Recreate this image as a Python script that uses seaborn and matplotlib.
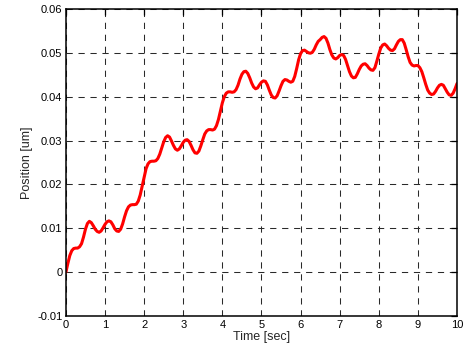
import matplotlib
matplotlib.use("Agg")
import matplotlib.pyplot as plt
import seaborn as sns
import pandas as pd
from matplotlib.ticker import FuncFormatter

time_sec = [round(i * 0.05, 2) for i in range(201)]
position_um = [
    0.0000, 0.0020, 0.0038, 0.0049, 0.0054, 0.0055, 0.0055, 0.0058, 0.0065, 0.0080,
    0.0098, 0.0111, 0.0116, 0.0113, 0.0106, 0.0098, 0.0093, 0.0091, 0.0094, 0.0101,
    0.0109, 0.0115, 0.0117, 0.0115, 0.0108, 0.0099, 0.0094, 0.0093, 0.0098, 0.0110,
    0.0126, 0.0140, 0.0149, 0.0153, 0.0154, 0.0154, 0.0155, 0.0162, 0.0176, 0.0196,
    0.0217, 0.0236, 0.0247, 0.0252, 0.0253, 0.0253, 0.0254, 0.0259, 0.0269, 0.0283,
    0.0297, 0.0307, 0.0311, 0.0308, 0.0299, 0.0289, 0.0281, 0.0278, 0.0281, 0.0288,
    0.0296, 0.0301, 0.0302, 0.0298, 0.0289, 0.0279, 0.0272, 0.0271, 0.0276, 0.0288,
    0.0302, 0.0315, 0.0322, 0.0325, 0.0325, 0.0324, 0.0326, 0.0334, 0.0348, 0.0367,
    0.0386, 0.0400, 0.0408, 0.0411, 0.0411, 0.0410, 0.0411, 0.0416, 0.0426, 0.0440,
    0.0451, 0.0457, 0.0458, 0.0453, 0.0443, 0.0431, 0.0422, 0.0418, 0.0420, 0.0427,
    0.0433, 0.0436, 0.0435, 0.0427, 0.0415, 0.0404, 0.0398, 0.0397, 0.0402, 0.0413,
    0.0425, 0.0435, 0.0439, 0.0438, 0.0435, 0.0433, 0.0435, 0.0446, 0.0464, 0.0484,
    0.0498, 0.0505, 0.0506, 0.0503, 0.0500, 0.0499, 0.0501, 0.0508, 0.0518, 0.0526,
    0.0530, 0.0535, 0.0537, 0.0533, 0.0522, 0.0507, 0.0495, 0.0488, 0.0486, 0.0489,
    0.0494, 0.0496, 0.0494, 0.0485, 0.0471, 0.0457, 0.0447, 0.0443, 0.0444, 0.0452,
    0.0462, 0.0470, 0.0474, 0.0475, 0.0471, 0.0465, 0.0461, 0.0460, 0.0466, 0.0481,
    0.0497, 0.0511, 0.0518, 0.0520, 0.0516, 0.0510, 0.0506, 0.0505, 0.0509, 0.0518,
    0.0526, 0.0530, 0.0530, 0.0522, 0.0507, 0.0491, 0.0478, 0.0472, 0.0470, 0.0471,
    0.0471, 0.0466, 0.0457, 0.0443, 0.0428, 0.0415, 0.0408, 0.0405, 0.0406, 0.0412,
    0.0420, 0.0426, 0.0428, 0.0426, 0.0418, 0.0410, 0.0404, 0.0403, 0.0408, 0.0418,
    0.0430]

x_ticks = [0, 1, 2, 3, 4, 5, 6, 7, 8, 9, 10]
y_ticks = [-0.01, 0, 0.01, 0.02, 0.03, 0.04, 0.05, 0.06]

sns.set_style("white")
plt.rcParams['font.family'] = ['Liberation Sans', 'DejaVu Sans']

df = pd.DataFrame({"Time": time_sec, "Position": position_um})

fig = plt.figure(figsize=(4.64, 3.56), dpi=100)
ax = fig.add_axes([0.142, 0.112, 0.843, 0.863])
sns.lineplot(data=df, x="Time", y="Position", ax=ax, color="#ff0000", linewidth=2.2)
for ln in ax.get_lines():
    ln.set_solid_joinstyle("round")
    ln.set_solid_capstyle("round")

ax.set_xlim(0, 10)
ax.set_ylim(-0.01, 0.06)
ax.set_xticks(x_ticks)
ax.set_yticks(y_ticks)
ax.yaxis.set_major_formatter(FuncFormatter(lambda v, p: "0" if abs(v) < 1e-12 else f"{v:g}"))
ax.grid(True, color="#2a2a2a", linestyle=(0, (6, 5.5)), linewidth=0.75)
ax.tick_params(direction="in", length=4, width=0.9, top=True, right=True,
               labelsize=8, colors="black", pad=2.5)
for s in ax.spines.values():
    s.set_color("black")
    s.set_linewidth(1.1)
ax.set_xlabel("Time [sec]", fontsize=9, labelpad=1)
ax.set_ylabel("Position [um]", fontsize=9, labelpad=3)

fig.savefig("out.png", dpi=100)
